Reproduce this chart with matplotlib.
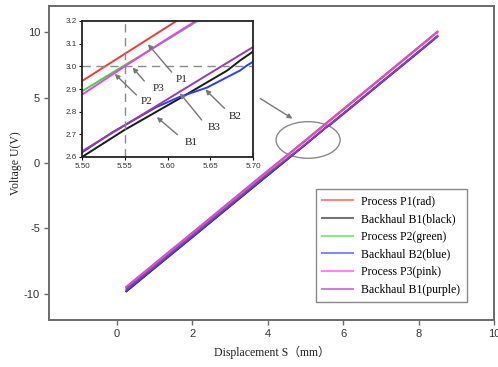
import matplotlib
matplotlib.use("Agg")
import matplotlib.pyplot as plt
from matplotlib.patches import Ellipse

plt.rcParams["axes.unicode_minus"] = False

# displacement S (mm) / voltage U (V) samples for each run
s_p1 = [0.25, 1.0, 2.0, 3.0, 4.0, 5.0, 5.50, 5.55, 5.60, 5.65, 5.70, 6.0, 7.0, 8.0, 8.5]
u_p1 = [-9.50, -7.72, -5.36, -2.99, -0.62, 1.75, 2.935, 3.055, 3.175, 3.295, 3.415, 4.12, 6.49, 8.86, 10.05]

s_b1 = [0.25, 1.0, 2.0, 3.0, 4.0, 5.0, 5.50, 5.55, 5.615, 5.67, 5.685, 5.70, 6.0, 7.0, 8.0, 8.5]
u_b1 = [-9.82, -8.04, -5.68, -3.31, -0.95, 1.40, 2.60, 2.72, 2.86, 2.982, 3.026, 3.065, 3.76, 6.13, 8.49, 9.69]

s_p2 = [0.25, 1.0, 2.0, 3.0, 4.0, 5.0, 5.50, 5.55, 5.60, 5.65, 5.70, 6.0, 7.0, 8.0, 8.5]
u_p2 = [-9.54, -7.77, -5.40, -3.03, -0.66, 1.71, 2.89, 3.005, 3.118, 3.235, 3.35, 4.06, 6.43, 8.80, 9.98]

s_b2 = [0.25, 1.0, 2.0, 3.0, 4.0, 5.0, 5.50, 5.536, 5.55, 5.587, 5.614, 5.646, 5.685, 5.693, 5.70, 6.0, 7.0, 8.0, 8.5]
u_b2 = [-9.78, -8.00, -5.66, -3.28, -0.92, 1.42, 2.62, 2.71, 2.74, 2.82, 2.865, 2.906, 2.982, 3.004, 3.02, 3.72, 6.10, 8.46, 9.66]

s_p3 = [0.25, 1.0, 2.0, 3.0, 4.0, 5.0, 5.50, 5.55, 5.60, 5.65, 5.70, 6.0, 7.0, 8.0, 8.5]
u_p3 = [-9.45, -7.68, -5.32, -2.95, -0.58, 1.69, 2.875, 3.000, 3.122, 3.24, 3.36, 4.07, 6.45, 8.83, 10.02]

s_b3 = [0.25, 1.0, 2.0, 3.0, 4.0, 5.0, 5.50, 5.55, 5.60, 5.65, 5.70, 6.0, 7.0, 8.0, 8.5]
u_b3 = [-9.65, -7.90, -5.54, -3.18, -0.82, 1.44, 2.625, 2.74, 2.855, 2.97, 3.085, 3.78, 6.16, 8.52, 9.72]

labels = ["Process P1(rad)", "Backhaul B1(black)", "Process P2(green)",
          "Backhaul B2(blue)", "Process P3(pink)", "Backhaul B1(purple)"]
colors = ["#f23a3a", "#1a1a1a", "#3ad83a", "#2f3cf5", "#f23af2", "#9a3aa8"]
series = [(s_p1, u_p1), (s_b1, u_b1), (s_p2, u_p2),
          (s_b2, u_b2), (s_p3, u_p3), (s_b3, u_b3)]

# inset callouts: label, text position, arrow tail, arrow head
callouts = [
    ("P1", (5.616, 2.943), (5.607, 2.965), (5.575, 3.107)),
    ("P3", (5.589, 2.904), (5.575, 2.926), (5.557, 3.004)),
    ("P2", (5.575, 2.843), (5.566, 2.865), (5.536, 2.975)),
    ("B3", (5.654, 2.729), (5.642, 2.754), (5.6125, 2.891)),
    ("B2", (5.679, 2.779), (5.669, 2.806), (5.642, 2.906)),
    ("B1", (5.628, 2.666), (5.614, 2.691), (5.585, 2.784)),
]

serif = ["Liberation Serif", "Noto Sans CJK SC"]
sans = "Liberation Sans"
grey = "#6a6a6a"

fig = plt.figure(figsize=(4.98, 3.67), dpi=100)
ax = fig.add_axes([49 / 498, 47 / 367, 445 / 498, 314 / 367])

for (s, u), c, lab in zip(series, colors, labels):
    ax.plot(s, u, color=c, lw=1.3, label=lab)

ax.set_xlim(-1.8, 10)
ax.set_ylim(-12, 12)
ax.set_xticks([0, 2, 4, 6, 8, 10])
ax.set_yticks([-10, -5, 0, 5, 10])
for sp in ax.spines.values():
    sp.set_color(grey)
    sp.set_linewidth(1.4)
ax.tick_params(direction="out", length=3.5, width=1, color=grey,
               labelsize=8, labelcolor="#333333", pad=3)
for t in ax.get_xticklabels() + ax.get_yticklabels():
    t.set_family(sans)
ax.set_xlabel("Displacement S（mm）", family=serif, fontsize=8.5,
              color="#222222", labelpad=5)
ax.set_ylabel("Voltage U(V)", family=serif, fontsize=8.5,
              color="#222222", labelpad=1)

ax.add_patch(Ellipse((5.07, 1.76), 1.70, 2.8, fill=False,
                     edgecolor="#8a8a8a", lw=1.0))
ax.annotate("", xy=(4.72, 3.28), xytext=(3.74, 5.04),
            arrowprops=dict(arrowstyle="-|>", color="#7a7a7a", lw=1.0,
                            mutation_scale=7))

leg = ax.legend(loc="upper left", bbox_to_anchor=(316 / 498, 1 - 189 / 367),
                bbox_transform=fig.transFigure, borderaxespad=0,
                prop={"family": serif, "size": 8.5}, frameon=True,
                fancybox=False, handlelength=2.6, handletextpad=0.7,
                labelspacing=0.48, borderpad=0.55)
leg.get_frame().set_edgecolor(grey)
leg.get_frame().set_linewidth(1.0)
for ln in leg.get_lines():
    ln.set_alpha(0.6)
    ln.set_linewidth(1.5)

# zoomed view around S = 5.55 mm
ins = fig.add_axes([82 / 498, 1 - 157 / 367, 171 / 498, 136 / 367])
ins.set_facecolor("white")
for (s, u), c in zip(series, colors):
    ins.plot(s, u, color=c, lw=1.4)
ins.axvline(5.55, color="#8a8a8a", lw=1.0, dashes=(6, 4))
ins.axhline(3.0, color="#8a8a8a", lw=1.0, dashes=(6, 4))
ins.set_xlim(5.50, 5.70)
ins.set_ylim(2.6, 3.2)
ins.set_xticks([5.50, 5.55, 5.60, 5.65, 5.70])
ins.set_yticks([2.6, 2.7, 2.8, 2.9, 3.0, 3.1, 3.2])
ins.set_xticklabels(["5.50", "5.55", "5.60", "5.65", "5.70"])
ins.set_yticklabels(["2.6", "2.7", "2.8", "2.9", "3.0", "3.1", "3.2"])
for sp in ins.spines.values():
    sp.set_color("#222222")
    sp.set_linewidth(1.3)
ins.tick_params(direction="out", length=2, width=0.8, labelsize=5.8,
                labelcolor="#333333", pad=2)
for t in ins.get_xticklabels() + ins.get_yticklabels():
    t.set_family(sans)

for name, txt, tail, head in callouts:
    ins.annotate("", xy=head, xytext=tail,
                 arrowprops=dict(arrowstyle="-|>", color="#777777", lw=1.0,
                                 mutation_scale=7))
    ins.text(txt[0], txt[1], name, family=serif, fontsize=8,
             color="#222222", ha="center", va="center")

fig.savefig("out.png", dpi=100)
